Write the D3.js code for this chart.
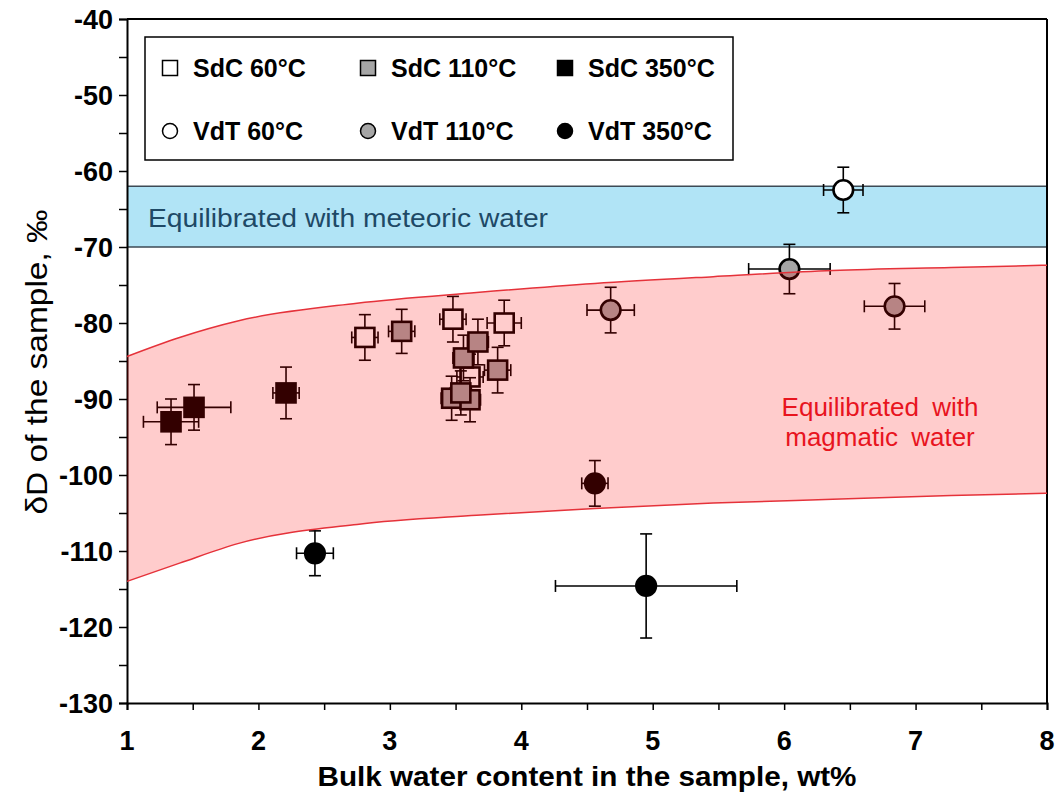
<!DOCTYPE html>
<html>
<head>
<meta charset="utf-8">
<script src="https://cdn.jsdelivr.net/npm/d3@7"></script>
<style>
  html, body { margin: 0; padding: 0; background: #fff; }
  svg { display: block; }
  text { font-family: "Liberation Sans", Arial, sans-serif; }
</style>
</head>
<body>
<svg id="chart" width="1057" height="792"></svg>
<script>
// ---------------- data ----------------
// each point: [x (wt%), y (δD ‰), x error, y error]
const sdc60  = [[2.81, -81.9, 0.10, 3.0], [3.48, -79.5, 0.10, 3.0], [3.87, -80.0, 0.13, 3.0], [3.61, -87.1, 0.10, 3.0]];
const sdc110 = [[3.47, -89.9, 0.08, 2.9], [3.61, -90.1, 0.08, 2.9], [3.54, -89.2, 0.08, 2.9], [3.56, -84.6, 0.08, 3.0],
                [3.67, -82.5, 0.08, 3.0], [3.82, -86.2, 0.10, 3.0], [3.09, -81.1, 0.10, 2.9]];
const sdc350 = [[1.335, -93.0, 0.21, 3.0], [1.51, -91.1, 0.28, 3.0], [2.21, -89.2, 0.10, 3.4]];
const vdt60  = [[6.45, -62.5, 0.15, 3.0]];
const vdt110 = [[6.04, -72.9, 0.31, 3.25], [4.68, -78.3, 0.18, 3.0], [6.84, -77.8, 0.23, 3.0]];
const vdt350 = [[4.56, -101.1, 0.10, 3.0], [4.95, -114.6, 0.69, 6.85], [2.43, -110.3, 0.14, 2.95]];

// meteoric water band (δD range)
const meteoricBand = [-62, -70];
// magmatic water band boundaries
const bandX     = [1, 1.4, 1.85, 2.75, 3.66, 4.56, 5.46, 6.37, 7.27, 8];
const bandUpper = [-84.4, -81.9, -79.7, -77.4, -76.0, -74.8, -73.9, -73.1, -72.7, -72.4];
const bandLower = [-114.0, -111.6, -109.0, -106.5, -105.3, -104.4, -103.7, -103.2, -102.7, -102.4];

const xTicks = [1, 2, 3, 4, 5, 6, 7, 8];
const yTicks = [-40, -50, -60, -70, -80, -90, -100, -110, -120, -130];

const legendItems = [
  {label: "SdC 60°C",  shape: "square", fill: "#ffffff"},
  {label: "SdC 110°C", shape: "square", fill: "#a6a6a6"},
  {label: "SdC 350°C", shape: "square", fill: "#000000"},
  {label: "VdT 60°C",  shape: "circle", fill: "#ffffff"},
  {label: "VdT 110°C", shape: "circle", fill: "#a6a6a6"},
  {label: "VdT 350°C", shape: "circle", fill: "#000000"}
];

// ---------------- layout ----------------
const svg = d3.select("#chart");
const L = 127, R = 1047, T = 19, B = 703;
const x = d3.scaleLinear().domain([1, 8]).range([L, R]);
const y = d3.scaleLinear().domain([-130, -40]).range([B, T]);

// meteoric band
svg.append("rect")
  .attr("x", x(1)).attr("width", x(8) - x(1))
  .attr("y", y(meteoricBand[0])).attr("height", y(meteoricBand[1]) - y(meteoricBand[0]))
  .attr("fill", "#b1e4f6");
[meteoricBand[0], meteoricBand[1]].forEach(v => {
  svg.append("line").attr("x1", x(1)).attr("x2", x(8)).attr("y1", y(v)).attr("y2", y(v))
    .attr("stroke", "#3d4a55").attr("stroke-width", 1.5);
});
svg.append("text").attr("x", 148).attr("y", 227)
  .attr("font-family", "'Open Sans', 'Noto Sans', sans-serif")
  .attr("font-size", 26).attr("fill", "#1e4966")
  .attr("textLength", 400).attr("lengthAdjust", "spacingAndGlyphs")
  .text("Equilibrated with meteoric water");

// axes frame
const gx = svg.append("g").attr("transform", `translate(0,${B})`)
  .call(d3.axisBottom(x).tickValues(d3.range(1, 8.01, 0.5)).tickSize(7).tickFormat(""));
const gy = svg.append("g").attr("transform", `translate(${L},0)`)
  .call(d3.axisLeft(y).tickValues(d3.range(-130, -39, 5)).tickSize(8).tickFormat(""));
[gx, gy].forEach(g => {
  g.select(".domain").attr("stroke", "#000").attr("stroke-width", 2);
  g.selectAll(".tick line").attr("stroke", "#000").attr("stroke-width", 1.5);
});
svg.append("line").attr("x1", L).attr("x2", R).attr("y1", T).attr("y2", T).attr("stroke", "#000").attr("stroke-width", 2);
svg.append("line").attr("x1", R).attr("x2", R).attr("y1", T).attr("y2", B).attr("stroke", "#000").attr("stroke-width", 2);

// tick labels
svg.selectAll("text.ytl").data(yTicks).enter().append("text")
  .attr("class", "ytl").attr("x", 113).attr("y", d => y(d)).attr("dy", "0.36em")
  .attr("text-anchor", "end").attr("font-weight", "bold").attr("font-size", 27)
  .text(d => d);
svg.selectAll("text.xtl").data(xTicks).enter().append("text")
  .attr("class", "xtl").attr("x", d => x(d)).attr("y", 750)
  .attr("text-anchor", "middle").attr("font-weight", "bold").attr("font-size", 27)
  .text(d => d);

// axis titles
svg.append("text").attr("x", 587).attr("y", 786).attr("text-anchor", "middle")
  .attr("font-weight", "bold").attr("font-size", 28)
  .attr("textLength", 539).attr("lengthAdjust", "spacingAndGlyphs")
  .text("Bulk water content in the sample, wt%");
svg.append("text").attr("transform", `translate(47,362) rotate(-90)`).attr("text-anchor", "middle")
  .attr("font-weight", "normal").attr("font-size", 30)
  .attr("textLength", 305).attr("lengthAdjust", "spacingAndGlyphs")
  .text("δD of the sample, ‰");

// ---------------- data marks ----------------
const gData = svg.append("g");
function drawSeries(data, shape, fill) {
  const g = gData.append("g");
  const cap = 6;
  data.forEach(d => {
    const cx = x(d[0]), cy = y(d[1]);
    const x0 = x(d[0] - d[2]), x1 = x(d[0] + d[2]);
    const y0 = y(d[1] - d[3]), y1 = y(d[1] + d[3]);
    const eb = g.append("g").attr("stroke", "#000").attr("stroke-width", 1.6);
    eb.append("line").attr("x1", x0).attr("x2", x1).attr("y1", cy).attr("y2", cy);
    eb.append("line").attr("x1", cx).attr("x2", cx).attr("y1", y0).attr("y2", y1);
    eb.append("line").attr("x1", x0).attr("x2", x0).attr("y1", cy - cap).attr("y2", cy + cap);
    eb.append("line").attr("x1", x1).attr("x2", x1).attr("y1", cy - cap).attr("y2", cy + cap);
    eb.append("line").attr("x1", cx - cap).attr("x2", cx + cap).attr("y1", y0).attr("y2", y0);
    eb.append("line").attr("x1", cx - cap).attr("x2", cx + cap).attr("y1", y1).attr("y2", y1);
  });
  data.forEach(d => {
    const cx = x(d[0]), cy = y(d[1]);
    if (shape === "square") {
      g.append("rect").attr("x", cx - 9.5).attr("y", cy - 9.5).attr("width", 19).attr("height", 19)
        .attr("fill", fill).attr("stroke", "#000").attr("stroke-width", 2.6);
    } else {
      g.append("circle").attr("cx", cx).attr("cy", cy).attr("r", 9.8)
        .attr("fill", fill).attr("stroke", "#000").attr("stroke-width", 2.6);
    }
  });
}
drawSeries(sdc60, "square", "#ffffff");
drawSeries(sdc110, "square", "#a6a6a6");
drawSeries(sdc350, "square", "#000000");
drawSeries(vdt60, "circle", "#ffffff");
drawSeries(vdt110, "circle", "#a6a6a6");
drawSeries(vdt350, "circle", "#000000");

// magmatic band overlay
const bandPts = bandX.map((v, i) => ({x: v, u: bandUpper[i], l: bandLower[i]}));
svg.append("path").datum(bandPts)
  .attr("d", d3.area().x(d => x(d.x)).y0(d => y(d.l)).y1(d => y(d.u)).curve(d3.curveMonotoneX))
  .attr("fill", "rgba(255,0,0,0.2)").attr("stroke", "none");
["u", "l"].forEach(k => {
  svg.append("path").datum(bandPts)
    .attr("d", d3.line().x(d => x(d.x)).y(d => y(d[k])).curve(d3.curveMonotoneX))
    .attr("fill", "none").attr("stroke", "#e5323a").attr("stroke-width", 1.5);
});
svg.append("text").attr("x", 880).attr("y", 416).attr("text-anchor", "middle")
  .attr("font-size", 26).attr("fill", "#e8141e").attr("word-spacing", 6)
  .text("Equilibrated with");
svg.append("text").attr("x", 880).attr("y", 446).attr("text-anchor", "middle")
  .attr("font-size", 26).attr("fill", "#e8141e").attr("word-spacing", 6)
  .text("magmatic water");

// ---------------- legend ----------------
const lg = svg.append("g");
lg.append("rect").attr("x", 145).attr("y", 37).attr("width", 588).attr("height", 123)
  .attr("fill", "#fff").attr("stroke", "#000").attr("stroke-width", 1.5);
const colX = [170, 368, 565], rowY = [68, 131];
legendItems.forEach((it, i) => {
  const cx = colX[i % 3], cy = rowY[Math.floor(i / 3)];
  if (it.shape === "square") {
    lg.append("rect").attr("x", cx - 7.5).attr("y", cy - 7.5).attr("width", 15).attr("height", 15)
      .attr("fill", it.fill).attr("stroke", "#000").attr("stroke-width", 1.5);
  } else {
    lg.append("circle").attr("cx", cx).attr("cy", cy).attr("r", 7.5)
      .attr("fill", it.fill).attr("stroke", "#000").attr("stroke-width", 1.5);
  }
  lg.append("text").attr("x", cx + 23).attr("y", cy).attr("dy", "0.36em")
    .attr("font-weight", "bold").attr("font-size", 25).text(it.label);
});
</script>
</body>
</html>
